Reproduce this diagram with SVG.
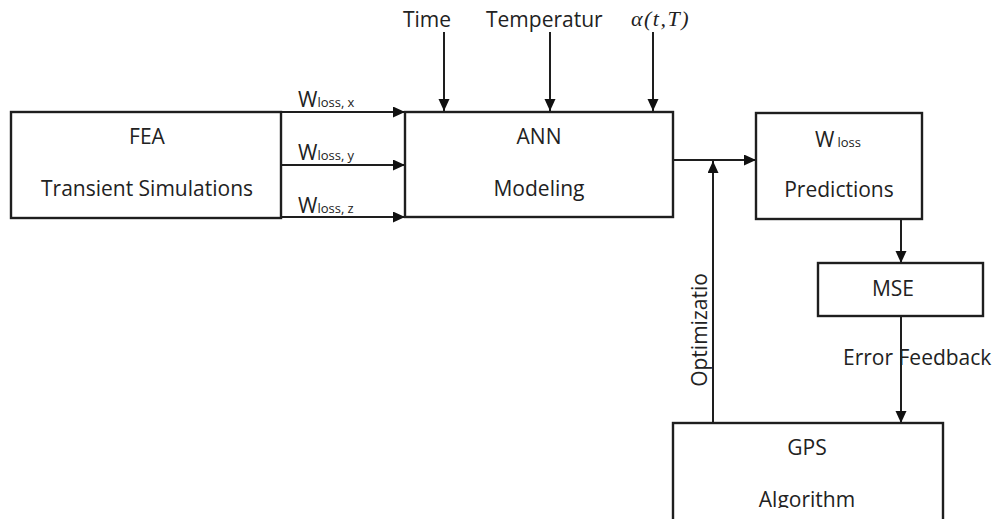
<svg xmlns="http://www.w3.org/2000/svg" width="1004" height="519" viewBox="0 0 1004 519">
  <style>
    .box { fill: #ffffff; stroke: #1e1e1e; stroke-width: 2.4; }
    .wire { fill: none; stroke: #1e1e1e; stroke-width: 2; }
    .lbl { font-family: "Open Sans", "Liberation Sans", sans-serif; font-size: 21px; fill: #222222; }
    .mid { text-anchor: middle; }
    .sub { font-size: 13px; }
    .math { font-family: "Liberation Serif", "Times New Roman", serif; font-style: italic; font-size: 22px; letter-spacing: 1.5px; fill: #222222; }
  </style>
  <defs>
    <marker id="arrow" markerUnits="userSpaceOnUse" markerWidth="13" markerHeight="12" refX="12" refY="5.5" orient="auto">
      <path d="M0,0 L12,5.5 L0,11 Z" fill="#111111"/>
    </marker>
    <clipPath id="gpsClip">
      <rect x="673" y="423" width="270" height="85"/>
    </clipPath>
  </defs>

  <rect width="1004" height="519" fill="#ffffff"/>

  <!-- connectors -->
  <g id="connectors">
    <!-- FEA outputs into ANN -->
    <line class="wire" x1="282" y1="112" x2="405" y2="112" marker-end="url(#arrow)"/>
    <line class="wire" x1="282" y1="165" x2="405" y2="165" marker-end="url(#arrow)"/>
    <line class="wire" x1="282" y1="217" x2="405" y2="217" marker-end="url(#arrow)"/>
    <!-- inputs from above -->
    <line class="wire" x1="444" y1="32" x2="444" y2="111" marker-end="url(#arrow)"/>
    <line class="wire" x1="550" y1="32" x2="550" y2="111" marker-end="url(#arrow)"/>
    <line class="wire" x1="653" y1="32" x2="653" y2="111" marker-end="url(#arrow)"/>
    <!-- ANN to predictions -->
    <line class="wire" x1="673" y1="160" x2="756" y2="160" marker-end="url(#arrow)"/>
    <!-- predictions to MSE -->
    <line class="wire" x1="901" y1="219" x2="901" y2="263" marker-end="url(#arrow)"/>
    <!-- MSE to GPS -->
    <line class="wire" x1="901" y1="316" x2="901" y2="423" marker-end="url(#arrow)"/>
    <!-- optimization feedback -->
    <line class="wire" x1="713" y1="423" x2="713" y2="161" marker-end="url(#arrow)"/>

    <text class="lbl" x="298" y="107">W<tspan class="sub">loss, x</tspan></text>
    <text class="lbl" x="298" y="160">W<tspan class="sub">loss, y</tspan></text>
    <text class="lbl" x="298" y="213">W<tspan class="sub">loss, z</tspan></text>
    <text class="lbl" x="403" y="27">Time</text>
    <text class="lbl" x="486" y="27">Temperatur</text>
    <text class="math" x="631" y="26">α(t,T)</text>
    <text class="lbl" x="843" y="365">Error Feedback</text>
    <text class="lbl mid" transform="translate(707,330) rotate(-90)">Optimizatio</text>
  </g>

  <g id="fea">
    <rect class="box" x="11" y="112" width="270" height="106"/>
    <text class="lbl mid" x="147" y="144">FEA</text>
    <text class="lbl mid" x="147" y="196">Transient Simulations</text>
  </g>

  <g id="ann">
    <rect class="box" x="405" y="112" width="268" height="105"/>
    <text class="lbl mid" x="539" y="144">ANN</text>
    <text class="lbl mid" x="539" y="196">Modeling</text>
  </g>

  <g id="predictions">
    <rect class="box" x="756" y="113" width="166" height="106"/>
    <text class="lbl" x="815" y="147">W<tspan class="sub" dx="3">loss</tspan></text>
    <text class="lbl mid" x="839" y="197">Predictions</text>
  </g>

  <g id="mse">
    <rect class="box" x="818" y="263" width="165" height="53"/>
    <text class="lbl mid" x="893" y="296">MSE</text>
  </g>

  <g id="gps">
    <rect class="box" x="673" y="423" width="270" height="110"/>
    <text class="lbl mid" x="807" y="455">GPS</text>
    <text class="lbl mid" x="807" y="507" clip-path="url(#gpsClip)">Algorithm</text>
  </g>
</svg>
